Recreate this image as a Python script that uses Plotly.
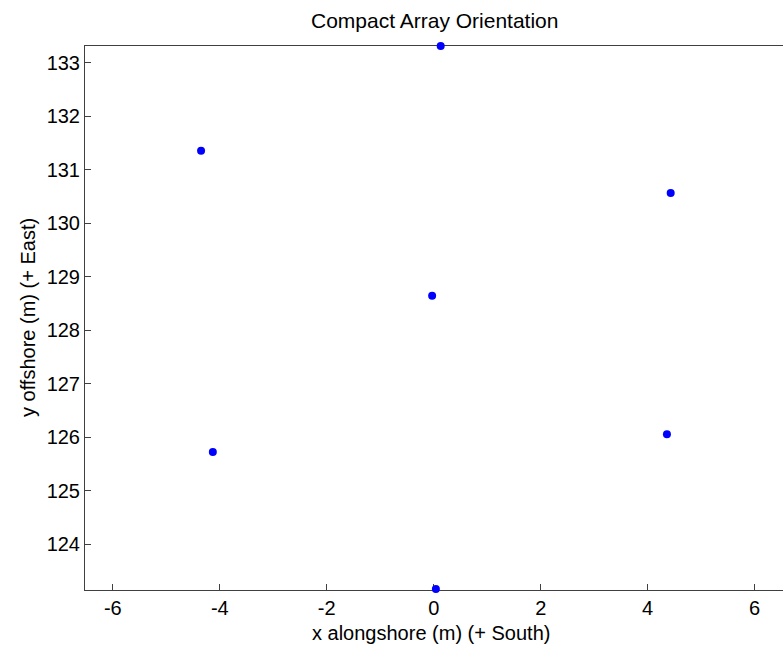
import plotly.graph_objects as go

x_alongshore = [0.13, -4.35, 4.43, -0.03, -4.13, 4.36, 0.04]
y_offshore = [133.31, 131.35, 130.56, 128.64, 125.72, 126.05, 123.16]

x_tickvals = [-6, -4, -2, 0, 2, 4, 6]
x_ticktext = ["-6", "-4", "-2", "0", "2", "4", "6"]
y_tickvals = [124, 125, 126, 127, 128, 129, 130, 131, 132, 133]
y_ticktext = ["124", "125", "126", "127", "128", "129", "130", "131", "132", "133"]

title_text = "Compact Array Orientation"
x_label = "x alongshore (m) (+ South)"
y_label = "y offshore (m) (+ East)"

W, H = 783, 652
ml, mr, mt, mb = 85, 0, 46, 62

fig = go.Figure()
fig.add_trace(go.Scatter(
    x=x_alongshore, y=y_offshore, mode="markers",
    marker=dict(color="#0000ff", size=8, line=dict(width=0)),
    cliponaxis=False, showlegend=False,
))

font = dict(family="Liberation Sans, Arial, sans-serif", size=20, color="#000000")
axis_common = dict(
    showgrid=False, zeroline=False, showline=True, mirror=True,
    linecolor="#404040", linewidth=1, ticks="inside", ticklen=6,
    tickcolor="#404040", tickfont=font, layer="below traces",
)

fig.update_layout(
    width=W, height=H,
    margin=dict(l=ml, r=mr, t=mt, b=mb),
    paper_bgcolor="white", plot_bgcolor="white",
    xaxis=dict(range=[-6.52, 6.53], tickmode="array", tickvals=x_tickvals,
               ticktext=x_ticktext, **axis_common),
    yaxis=dict(range=[123.14, 133.31], tickmode="array", tickvals=y_tickvals,
               ticktext=y_ticktext, **axis_common),
    font=font,
)

fig.add_annotation(text=title_text, xref="paper", yref="paper", x=0.5, y=1,
                   yshift=26, showarrow=False, font=dict(font, size=21),
                   xanchor="center", yanchor="middle")
fig.add_annotation(text=x_label, xref="paper", yref="paper", x=0.495, y=0,
                   yshift=-43, showarrow=False, font=font,
                   xanchor="center", yanchor="middle")
fig.add_annotation(text=y_label, xref="paper", yref="paper", x=0, y=0.5,
                   xshift=-57, showarrow=False, font=font, textangle=-90,
                   xanchor="center", yanchor="middle")

fig.write_html("out.html")
